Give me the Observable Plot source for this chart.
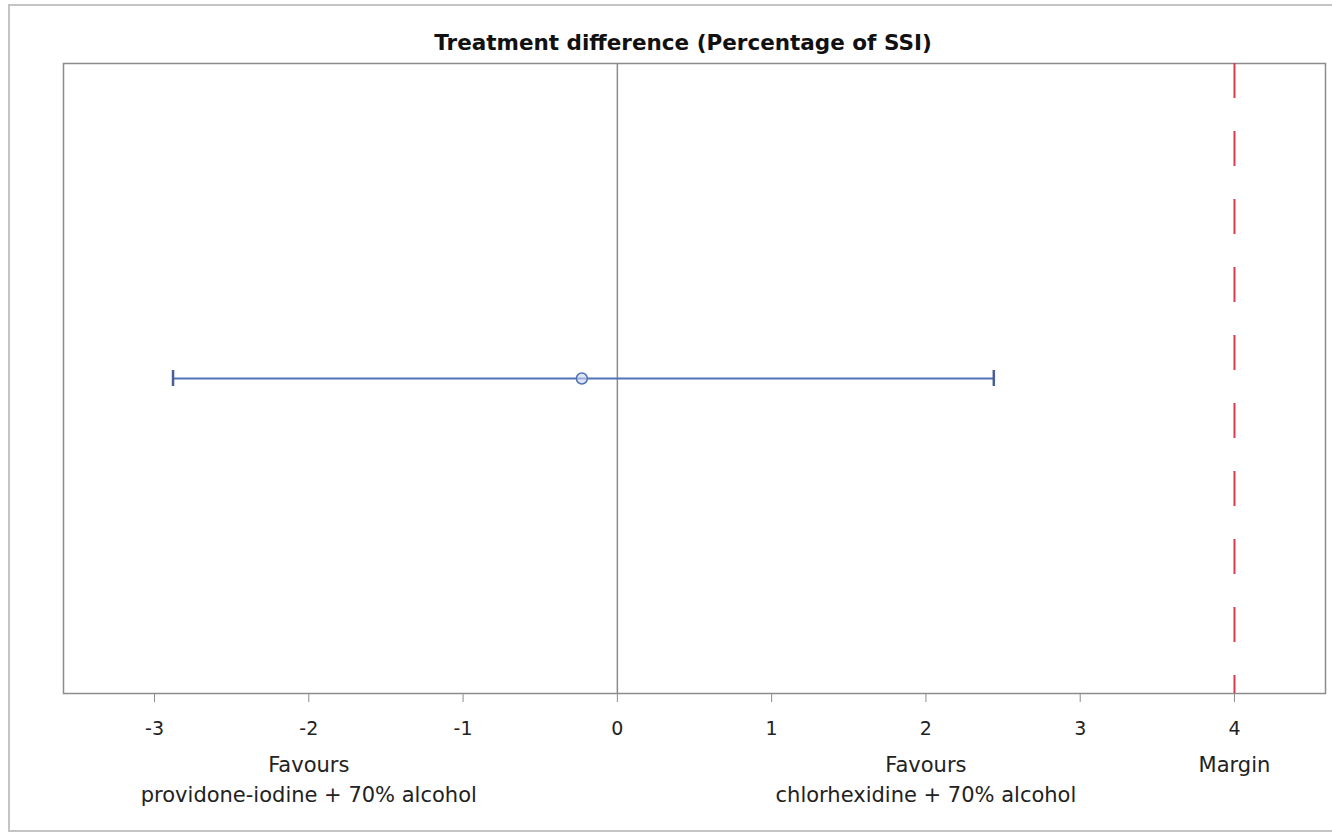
<!DOCTYPE html>
<html>
<head>
<meta charset="utf-8">
<script src="https://cdn.jsdelivr.net/npm/d3@7"></script>
<script src="https://cdn.jsdelivr.net/npm/@observablehq/plot@0.6"></script>
<style>
  html, body { margin: 0; padding: 0; background: #fff; width: 1332px; height: 836px; overflow: hidden; }
  #outer { position: absolute; left: 8px; top: 4px; width: 1340px; height: 828px; border: 2px solid #c4c4c4; box-sizing: border-box; z-index: 2; pointer-events: none; }
  #title { position: absolute; left: 0; width: 1366px; top: 30px; text-align: center; font-family: "DejaVu Sans", Verdana, sans-serif; font-weight: bold; font-size: 21.5px; color: #111; }
  #chart { position: absolute; left: 0; top: 53px; }
  #chart g[aria-label="x-axis tick label"] { font-size: 19px !important; }
</style>
</head>
<body>
<div id="outer"></div>
<div id="title">Treatment difference (Percentage of SSI)</div>
<div id="chart"></div>
<script>
const categories = ["Treatment difference"];
const estimate = [-0.23];
const lower = [-2.88];
const upper = [2.44];
const marginValue = [4];
const tickValues = [-3, -2, -1, 0, 1, 2, 3, 4];
const bottomLabelX = [-2, 2, 4];
const bottomLabels = ["Favours\nprovidone-iodine + 70% alcohol", "Favours\nchlorhexidine + 70% alcohol", "Margin"];

const rows = categories.map((c, i) => ({cat: c, est: estimate[i], lo: lower[i], hi: upper[i]}));
const labelRows = bottomLabelX.map((x, i) => ({x, text: bottomLabels[i]}));

const blue = "#5073b5";
const font = "'DejaVu Sans', Verdana, sans-serif";

const chart = Plot.plot({
  width: 1332,
  height: 760,
  marginLeft: 63,
  marginRight: 7,
  marginTop: 10,
  marginBottom: 120,
  style: {fontFamily: font, fontSize: "19px", color: "#222", background: "transparent", overflow: "visible"},
  x: {domain: [-3.59, 4.59], ticks: tickValues, tickFormat: d => String(d)},
  y: {type: "band", domain: categories, axis: null, padding: 0},
  marks: [
    Plot.frame({stroke: "#8c8c8c", strokeWidth: 1.5}),
    Plot.ruleX([0], {stroke: "#8c8c8c", strokeWidth: 1.5}),
    Plot.ruleX(marginValue, {stroke: "#d93c4c", strokeWidth: 2, strokeDasharray: "35,33"}),
    Plot.ruleY(rows, {y: "cat", x1: "lo", x2: "hi", stroke: blue, strokeWidth: 2}),
    Plot.tickX(rows, {x: "lo", y: "cat", stroke: "#4a5f98", strokeWidth: 2.5, insetTop: 307, insetBottom: 307}),
    Plot.tickX(rows, {x: "hi", y: "cat", stroke: "#4a5f98", strokeWidth: 2.5, insetTop: 307, insetBottom: 307}),
    Plot.dot(rows, {x: "est", y: "cat", r: 5.5, stroke: blue, strokeWidth: 1.5, fill: "#c9d5ee", fillOpacity: 0.6}),
    Plot.axisX({ticks: tickValues, tickSize: 9, tickPadding: 19, stroke: "#8c8c8c", fontSize: 19, fill: "#222", tickFormat: d => String(d)}),
    Plot.text(labelRows, {x: "x", text: "text", frameAnchor: "bottom", dy: 58, lineAnchor: "top", lineHeight: 1.4, fontSize: 21, fill: "#222"})
  ]
});
document.getElementById("chart").appendChild(chart);
</script>
</body>
</html>
